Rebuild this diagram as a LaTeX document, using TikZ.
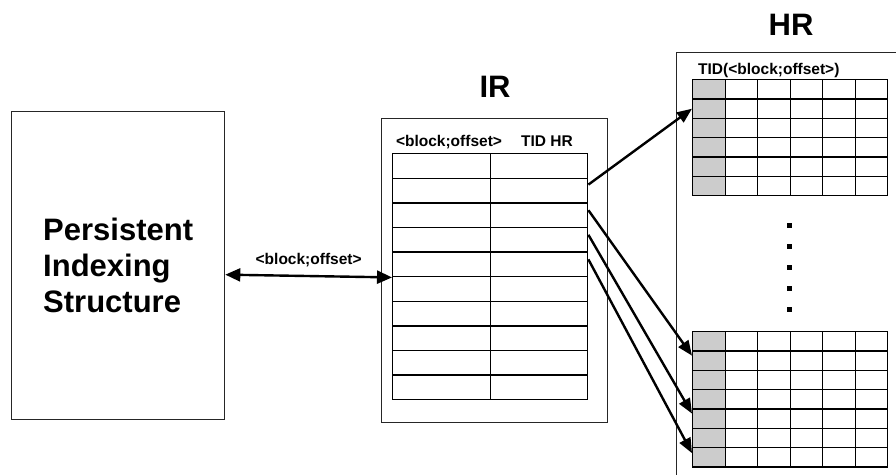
\documentclass[tikz,border=0pt]{standalone}
\usepackage{fontspec}
\setmainfont{Liberation Sans}
\usetikzlibrary{arrows.meta}
\begin{document}
\begin{tikzpicture}[x=1pt,y=-1pt,
  frame/.style={draw=black!85, line width=1.3pt, inner sep=0pt, anchor=north west},
  cell/.style={draw=black, line width=1.4pt, inner sep=0pt, anchor=north west, fill=white},
  greycell/.style={cell, fill=black!20},
  small/.style={font=\fontsize{15.5}{18}\selectfont\bfseries, inner sep=0pt},
  big/.style={font=\fontsize{31}{36}\selectfont\bfseries, inner sep=0pt},
  link/.style={line width=2.4pt, -{Triangle[length=15pt,width=12pt]}},
  duallink/.style={line width=2.4pt, {Triangle[length=15pt,width=13pt]}-{Triangle[length=15pt,width=13pt]}},
  dot/.style={fill=black, draw=none, minimum size=5pt, inner sep=0pt}
  ]
\useasboundingbox (0,0) rectangle (896,474);
\clip (0,0) rectangle (896,474);

% Persistent indexing structure
\node[frame, minimum width=213pt, minimum height=308pt] (pis) at (11,111) {};
\node[big, align=left] (pistext) at (pis.center) {Persistent\\Indexing\\Structure};

% IR: outer frame, title, header and two-column table
\node[frame, minimum width=226pt, minimum height=304pt] (ir) at (381,118) {};
\node[big, anchor=base] (irtitle) at (495,97) {IR};
\node[small, anchor=base] (irhead1) at (449,146) {<block;offset>};
\node[small, anchor=base] (irhead2) at (547,146) {TID HR};
\foreach \i in {1,...,10} {
  \node[cell, minimum width=98pt, minimum height=24.6pt] (irl-\i) at (392,{153+24.6*(\i-1)}) {};
  \node[cell, minimum width=97pt, minimum height=24.6pt] (irr-\i) at (490,{153+24.6*(\i-1)}) {};
}

% HR: outer frame running off the page, title and header
\node[frame, minimum width=250pt, minimum height=450pt] (hr) at (676,52) {};
\node[big, anchor=base] (hrtitle) at (791,35) {HR};
\node[small, anchor=base west] (hrhead) at (698,74) {TID(<block;offset>)};

% HR upper page: 6 rows, first column is the TID slot
\foreach \r in {1,...,6} {
  \node[greycell, minimum width=32.5pt, minimum height=19.33pt] (hrt-\r-1) at (692,{79+19.33*(\r-1)}) {};
  \foreach \c in {2,...,6}
    \node[cell, minimum width=32.5pt, minimum height=19.33pt] (hrt-\r-\c) at ({692+32.5*(\c-1)},{79+19.33*(\r-1)}) {};
}

% HR lower page: 7 rows
\foreach \r in {1,...,7} {
  \node[greycell, minimum width=32.5pt, minimum height=19.3pt] (hrb-\r-1) at (692,{331+19.3*(\r-1)}) {};
  \foreach \c in {2,...,6}
    \node[cell, minimum width=32.5pt, minimum height=19.3pt] (hrb-\r-\c) at ({692+32.5*(\c-1)},{331+19.3*(\r-1)}) {};
}

% vertical ellipsis between the pages
\foreach \k in {0,...,4}
  \node[dot] (gap-\k) at (789,{225+21*\k}) {};

% connectors
\draw[duallink] ([yshift=-9pt]pis.east) -- node[small, above=8pt] (linklabel) {<block;offset>} (irl-5.south west);
\draw[link] ([yshift=6pt]irr-2.east) -- (hrt-2-1.west);
\draw[link] ([yshift=5pt]irr-3.east) -- ([yshift=5pt]hrb-2-1.west);
\draw[link] ([yshift=5pt]irr-4.east) -- ([yshift=5pt]hrb-5-1.west);
\draw[link] ([yshift=5pt]irr-5.east) -- ([yshift=4pt]hrb-7-1.west);
\end{tikzpicture}
\end{document}
